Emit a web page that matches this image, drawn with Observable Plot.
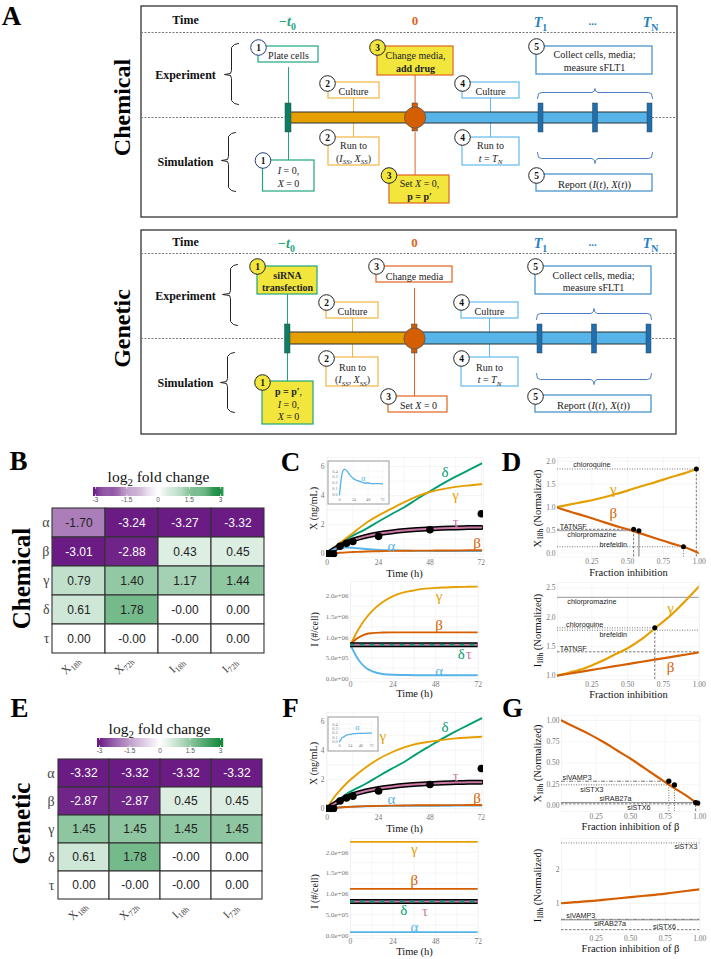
<!DOCTYPE html>
<html><head><meta charset="utf-8">
<script src="https://cdn.jsdelivr.net/npm/d3@7"></script>
<script src="https://cdn.jsdelivr.net/npm/@observablehq/plot@0.6"></script>
<style>html,body{margin:0;padding:0;background:#fff}#page{position:relative;width:711px;height:959px;overflow:hidden;background:#fff}</style>
</head><body><div id="page"></div>
<script>
// ---------- DATA ----------
const OI = {a:"#56B4E9", b:"#D55E00", g:"#E69F00", d:"#009E73", t:"#CC79A7"};
const rowsH = ["α","β","γ","δ","τ"];
const colsH = ["X_{18h}","X_{72h}","I_{18h}","I_{72h}"];
const heatB = [[-1.70,-3.24,-3.27,-3.32],[-3.01,-2.88,0.43,0.45],[0.79,1.40,1.17,1.44],[0.61,1.78,-0.001,0.001],[0.001,-0.001,-0.001,0.001]];
const heatE = [[-3.32,-3.32,-3.32,-3.32],[-2.87,-2.87,0.45,0.45],[1.45,1.45,1.45,1.45],[0.61,1.78,-0.001,0.001],[0.001,-0.001,-0.001,0.001]];
const cbTicks = [-3,-1.5,0,1.5,3];

const T = [0,3,6,9,12,18,24,30,36,42,48,54,60,66,72];
const xGammaC = [0,.4,.75,1.08,1.42,2.1,2.64,3.1,3.55,3.95,4.25,4.45,4.6,4.7,4.78];
const xGammaF = [0,.72,1.25,1.72,2.12,2.82,3.4,3.85,4.2,4.45,4.6,4.72,4.82,4.88,4.93];
const xDelta  = [0,.34,.68,1,1.25,1.7,2.22,2.72,3.2,3.77,4.3,4.82,5.3,5.75,6.2];
const xTau    = [0,.28,.55,.78,.95,1.2,1.38,1.5,1.6,1.67,1.72,1.76,1.78,1.8,1.81];
const xAlphaC = [0,.28,.41,.43,.41,.33,.27,.24,.22,.2,.2,.19,.19,.19,.185];
const xAlphaF = [0,.05,.09,.11,.13,.155,.17,.18,.185,.19,.19,.19,.195,.195,.195];
const xBeta   = [0,.03,.07,.1,.12,.16,.18,.2,.21,.22,.22,.23,.23,.24,.24];
const obsT = [0,1,3,6,9,12,24,48,72];
const obsX = [0,0,0,.52,.72,.85,1.2,1.65,2.75];
const iGammaC = [8.2e5,1.08e6,1.3e6,1.48e6,1.63e6,1.85e6,2e6,2.09e6,2.14e6,2.18e6,2.2e6,2.21e6,2.22e6,2.225e6,2.23e6];
const iBetaC  = [8.2e5,9.5e5,1.03e6,1.08e6,1.1e6,1.115e6,1.12e6,1.12e6,1.12e6,1.12e6,1.12e6,1.12e6,1.12e6,1.12e6,1.12e6];
const iAlphaC = [8.2e5,5.6e5,3.7e5,2.5e5,1.8e5,1.1e5,9e4,8.5e4,8e4,8e4,8e4,8e4,8e4,8e4,8e4];
const iFlat   = [8.2e5,8.2e5,8.2e5,8.2e5,8.2e5,8.2e5,8.2e5,8.2e5,8.2e5,8.2e5,8.2e5,8.2e5,8.2e5,8.2e5,8.2e5];
const iGammaF = [2.25e6,2.25e6,2.25e6,2.25e6,2.25e6,2.25e6,2.25e6,2.25e6,2.25e6,2.25e6,2.25e6,2.25e6,2.25e6,2.25e6,2.25e6];
const iBetaF  = [1.12e6,1.12e6,1.12e6,1.12e6,1.12e6,1.12e6,1.12e6,1.12e6,1.12e6,1.12e6,1.12e6,1.12e6,1.12e6,1.12e6,1.12e6];
const iAlphaF = [8e4,8e4,8e4,8e4,8e4,8e4,8e4,8e4,8e4,8e4,8e4,8e4,8e4,8e4,8e4];
const iTicks = [0,5e5,1e6,1.5e6,2e6];
const iTickLabels = ["0.0e+00","5.0e+05","1.0e+06","1.5e+06","2.0e+06"];
const timeTicks = [0,24,48,72];

const F = [0,.1,.2,.3,.4,.5,.6,.7,.8,.9,1];
const dXGamma = [1,1.06,1.12,1.19,1.27,1.36,1.46,1.55,1.65,1.74,1.85];
const dXBeta  = [1,.9,.81,.71,.61,.52,.42,.32,.22,.13,0];
const dIGamma = [1,1.06,1.13,1.23,1.35,1.47,1.63,1.83,2.03,2.27,2.53];
const dIBeta  = [1,1.04,1.08,1.12,1.16,1.2,1.24,1.28,1.32,1.36,1.4];
const gX = [1,.92,.84,.75,.65,.55,.44,.33,.22,.12,0];
const gI = [1,1.03,1.06,1.1,1.14,1.18,1.22,1.26,1.31,1.36,1.41];
const pts1 = [[.542,.52],[.579,.49],[.89,.14],[.98,1.83]];
const pts2 = [[.69,1.82]];
const pts3 = [[.776,.286],[.817,.243],[.97,.035],[.985,.03]];

// ---------- HELPERS ----------
const SERIF = "'Liberation Serif','Times New Roman',serif", SANS = "'Liberation Sans',Arial,sans-serif";
const STYLE = {background:"transparent",overflow:"visible",fontFamily:SERIF,maxWidth:"none"};
const root = document.getElementById("page");
function put(svg,l,t){svg.style.position="absolute";svg.style.left=l+"px";svg.style.top=t+"px";root.appendChild(svg);}
function pagePlot(marks){
  put(Plot.plot({width:711,height:959,margin:0,x:{domain:[0,711],range:[0,711],axis:null},y:{domain:[0,959],range:[0,959],axis:null},style:STYLE,marks}),0,0);
}
function panel([l,t,r,b],xo,yo,marks,m={},extra={}){
  const {ml=42,mr=6,mt=5,mb=14}=m;
  put(Plot.plot({width:r-l+ml+mr,height:b-t+mt+mb,marginLeft:ml,marginRight:mr,marginTop:mt,marginBottom:mb,x:xo,y:yo,style:STYLE,marks,...extra}),l-ml,t-mt);
}
const L=(xs,ys,c,w=1.9,o={})=>Plot.line(xs.map((x,i)=>[x,ys[i]]),{x:"0",y:"1",stroke:c,strokeWidth:w,curve:"monotone-x",clip:true,...o});
const G=(rows,size=15)=>Plot.text(rows,{x:d=>d[1],y:d=>d[2],text:d=>d[0],fill:d=>d[3],fontSize:size,fontFamily:SERIF});
const grid=(xt,yt)=>[Plot.frame({stroke:"#eee",strokeWidth:.6}),Plot.gridX(xt,{stroke:"#eee",strokeOpacity:1,strokeWidth:.6}),Plot.gridY(yt,{stroke:"#eee",strokeOpacity:1,strokeWidth:.6})];
const axX=(ticks,fmt=String,size=7.5,pad=2)=>Plot.axisX({ticks,tickFormat:fmt,tickSize:0,fontSize:size,color:"#777",label:null,tickPadding:pad});
const axY=(ticks,fmt=String,size=7.5,pad=2)=>Plot.axisY({ticks,tickFormat:fmt,tickSize:0,fontSize:size,color:"#777",label:null,tickPadding:pad});
const TXT=(rows,o={})=>Plot.text(rows,{x:d=>d[1],y:d=>d[2],text:d=>d[0],fontSize:d=>d[3],fill:d=>d[4]||"#111",rotate:d=>d[5]||0,fontFamily:SERIF,lineHeight:1.28,...o});
function vbrace(xe,xm,xt,y0,y1,yt,id){return [[xe,y0],[xm+3,y0+1],[xm,y0+4],[xm,yt-4],[xm-1,yt-1],[xt,yt],[xm-1,yt+1],[xm,yt+4],[xm,y1-4],[xm+3,y1-1],[xe,y1]].map(p=>[...p,id]);}
function hbrace(x0,x1,ye,ym,yt,id){const c=(x0+x1)/2;return [[x0,ye],[x0+1,ym+(ye-ym)*.2],[x0+4,ym],[c-3,ym],[c-.5,ym+(yt-ym)*.4],[c,yt],[c+.5,ym+(yt-ym)*.4],[c+3,ym],[x1-4,ym],[x1-1,ym+(ye-ym)*.2],[x1,ye]].map(p=>[...p,id]);}

// ---------- SCHEMATIC LAYOUT ----------
const cG="#1FA67E",cO="#F2B544",cD="#E0651C",cB="#62B9EC",cR="#3A8CC9",Y="#F2E63D";
const boxes=[
 [258,46,318,62,cG,"#fff"],[328,82,379,98,cO,"#fff"],[377,46,453,75,cD,Y],[462,82,519,98,cB,"#fff"],[536,46,652,74,cR,"#fff"],
 [328,137,379,165,cO,"#fff"],[462,137,519,165,cB,"#fff"],[262.5,160,314,191,cG,"#fff"],[389,175,449,203,cD,Y],[536,174,652,191,cR,"#fff"],
 [257,266,317,294,cG,Y],[326,302,378,318,cO,"#fff"],[376,266,452,282,cD,"#fff"],[461,302,518,318,cB,"#fff"],[535,266,651,294,cR,"#fff"],
 [326,357,378,386,cO,"#fff"],[461,357,518,386,cB,"#fff"],[262,381,313,424,cG,Y],[388,396,447,412,cD,"#fff"],[535,395,651,412,cR,"#fff"]
];
const circles=[
 [1,258,47,"#fff","#24407a"],[2,327,83,"#fff","#222"],[3,377,47,Y,"#222"],[4,462,83,"#fff","#222"],[5,536,46,"#fff","#222"],
 [2,327,137,"#fff","#222"],[4,462,137,"#fff","#222"],[1,262.5,160,"#fff","#24407a"],[3,388.5,175,Y,"#222"],[5,536,175,"#fff","#222"],
 [1,257,266,Y,"#222"],[2,326,302,"#fff","#222"],[3,376,266,"#fff","#222"],[4,461,302,"#fff","#222"],[5,535,266,"#fff","#222"],
 [2,326,358,"#fff","#222"],[4,461,358,"#fff","#222"],[1,262,382,Y,"#222"],[3,388,396,"#fff","#222"],[5,535,396,"#fff","#222"]
];
const boxText=[
 ["Plate cells",288,54,10],["Culture",353,90.5,10],["Change media,\n!add drug!",415,61,10],["Culture",490,90.5,10],["Collect cells, media;\nmeasure sFLT1",594,60,10],
 ["Run to\n(*I*~{SS}, *X*~{SS})",353,151,10],["Run to\n*t* = *T*~{N}",490,151,10],["*I* = 0,\n*X* = 0",288,176,10],["Set *X* = 0,\n!p = p′!",419,189,10],["Report (*I*(*t*), *X*(*t*))",594,183,10.5],
 ["!siRNA!\n!transfection!",287,280.5,10],["Culture",352,310,10],["Change media",414,275,10],["Culture",489,310,10],["Collect cells, media;\nmeasure sFLT1",593,280.5,10],
 ["Run to\n(*I*~{SS}, *X*~{SS})",352,372.5,10],["Run to\n*t* = *T*~{N}",489,372.5,10],["!p = p′!,\n*I* = 0,\n*X* = 0",288,403,10],["Set *X* = 0",418,404,10],["Report (*I*(*t*), *X*(*t*))",593,404,10.5]
];
const cTime="#1f7fc0";
const boldText=[
 ["Time",185,19,12],["−*t*_{0}",287,20,14,cG],["0",414.6,19,13,cD],["*T*_{1}",540,21,14,cTime],["...",592,20,11,cTime],["*T*_{N}",650,21,14,cTime],
 ["Experiment",185,74,12],["Simulation",185,160.5,12],
 ["Time",185,241,12],["−*t*_{0}",286,242,14,cG],["0",414,241,13,cD],["*T*_{1}",540,242,14,cTime],["...",592,241,11,cTime],["*T*_{N}",650,242,14,cTime],
 ["Experiment",185,294.5,12],["Simulation",185,381.5,12],
 ["Chemical",120,107,24,"#000",-90],["Genetic",120,328,24,"#000",-90],
 ["Chemical",19,578,25,"#000",-90],["Genetic",19,823,25,"#000",-90],
 ["A",11,13,27,"#000"],["B",18,458,27,"#000"],["C",290,459,27,"#000"],["D",511,459,27,"#000"],["E",19,705,27,"#000"],["F",290,705,27,"#000"],["G",512,705,27,"#000"]
];
const axisText=[
 ["log_{2} fold change",158,475,15.5],["log_{2} fold change",159,727,15.5],
 ["Time (h)",404,572,10.5],["Time (h)",414,692.5,10.5],["Time (h)",404,827,10.5],["Time (h)",414,950,10.5],
 ["X (ng/mL)",312,508,10,"#111",-90],["I (#/cell)",313,629,10,"#111",-90],["X (ng/mL)",312,763,10,"#111",-90],["I (#/cell)",313,891,10,"#111",-90],
 ["Fraction inhibition",628,571.5,10.5],["Fraction inhibition",628,693,10.5],["Fraction inhibition of β",630,825.5,10.5],["Fraction inhibition of β",630,947.5,10.5],
 ["X_{18h} (Normalized)",536,508,10.5,"#111",-90],["I_{18h} (Normalized)",536,630,10.5,"#111",-90],["X_{18h} (Normalized)",536,763,10.5,"#111",-90],["I_{18h} (Normalized)",536,885,10.5,"#111",-90]
];
const dashes=[[141,677,32],[141,677,117],[141,676,253],[141,676,338]];
const conn=[
 [288,67,103,cG],[288,132,160,cG],[353,98,112,cO],[353,123,137,cO],[414.6,75,103,cD],[414.6,132,175,cD],[490,98,112,cB],[490,123,137,cB],
 [287,294,324,cG],[287,353,381,cG],[352,318,332,cO],[352,344,357,cO],[414,288,324,cD],[414,353,396,cD],[489,318,332,cB],[489,344,357,cB]
];
const bars=[[289,414.6,112,123,OI.g],[414.6,650,112,123,OI.a],[288,414,332,344,OI.g],[414,649,332,344,OI.a]];
const barTicks=[
 [285,291,103,132,"#0B7F63"],[412,417.5,103,131,OI.b],[538,543,103,132,"#1F6FB0"],[592.5,597.5,103,132,"#1F6FB0"],[647,652,103,132,"#1F6FB0"],
 [284.5,290,324,353,"#0B7F63"],[411.5,417,324,353,OI.b],[537,542,324,353,"#1F6FB0"],[591.5,596.5,324,353,"#1F6FB0"],[646,651,324,353,"#1F6FB0"]
];
const hubs=[[414.6,117],[414,338]];
const frames=[[141,6,677,217],[141,230,676,434]];
const braceV=[...vbrace(238,231,224,43,104,74,"a"),...vbrace(235,228,221,132,191,160,"b"),...vbrace(237,230,222,264,325,294,"c"),...vbrace(234,227,220,352,412,382,"d")];
const braceH=[...hbrace(537,652,98,92,88,"a"),...hbrace(537,652,152,158,163,"b"),...hbrace(536,651,319,313,308,"c"),...hbrace(536,651,373,379,384,"d")];

pagePlot([
 Plot.rect(frames,{x1:"0",y1:"1",x2:"2",y2:"3",fill:"#fff",stroke:"#333",strokeWidth:1.3}),
 Plot.ruleY(dashes,{x1:"0",x2:"1",y:"2",stroke:"#777",strokeDasharray:"2,1.5",strokeWidth:1}),
 Plot.ruleX(conn,{x:"0",y1:"1",y2:"2",stroke:"3",strokeWidth:1}),
 Plot.line(braceV,{x:"0",y:"1",z:"2",stroke:"#222",strokeWidth:1,curve:"linear"}),
 Plot.line(braceH,{x:"0",y:"1",z:"2",stroke:"#4A7CC8",strokeWidth:1,curve:"linear"}),
 Plot.rect(bars,{x1:"0",x2:"1",y1:"2",y2:"3",fill:"4",stroke:"#263238",strokeWidth:1}),
 Plot.rect(barTicks,{x1:"0",x2:"1",y1:"2",y2:"3",fill:"4",stroke:"#37474f",strokeWidth:.5}),
 Plot.dot(hubs,{x:"0",y:"1",r:10.6,fill:OI.b,stroke:"#555",strokeWidth:.8}),
 Plot.rect(boxes,{x1:"0",y1:"1",x2:"2",y2:"3",stroke:"4",fill:"5",strokeWidth:1.2}),
 TXT(boxText,{fill:"#222"}),
 Plot.dot(circles,{x:"1",y:"2",r:7.8,fill:"3",stroke:"4",strokeWidth:1}),
 Plot.text(circles,{x:"1",y:"2",text:d=>String(d[0]),fontSize:9.5,fontWeight:"bold",fontFamily:SERIF,fill:"#111"}),
 TXT(boldText,{fontWeight:"bold"}),
 TXT(axisText)
]);

// ---------- HEATMAPS ----------
const PUR="#6A1B84",GRN="#158A3C";
const colorOpt={type:"linear",domain:[-3,0,3],range:[PUR,"#ffffff",GRN],clamp:true};
function heat(values,box,labelDx,m){
  const cells=values.flatMap((r,i)=>r.map((v,j)=>({row:rowsH[i],col:colsH[j],v})));
  panel(box,{domain:colsH,padding:0,axis:null},{domain:rowsH,padding:0},[
    Plot.cell(cells,{x:"col",y:"row",fill:"v",stroke:"#333",strokeWidth:1.1}),
    Plot.text(cells,{x:"col",y:"row",text:d=>d.v.toFixed(2),fontSize:12,fontFamily:SANS,fill:d=>d.v<-2.5?"#fff":"#222"}),
    Plot.axisY({tickSize:0,tickPadding:2,fontSize:14,color:"#444",label:null}),
    Plot.text(colsH,{x:d=>d,text:d=>d,frameAnchor:"bottom",dy:labelDx[1],dx:labelDx[0],rotate:-45,fontSize:11.5,fill:"#444",fontFamily:SERIF})
  ],m,{color:colorOpt});
}
function colorbar(box,dom){
  const bins=d3.range(dom[0],dom[1],.05);
  panel(box,{domain:dom,axis:null},{domain:[0,1],axis:null},[
    Plot.rect(bins,{x1:d=>d,x2:d=>d+.06,y1:0,y2:1,fill:d=>d}),
    Plot.ruleX(cbTicks,{y1:0,y2:.2,stroke:"#fff",strokeWidth:.7}),
    Plot.ruleX(cbTicks,{y1:.8,y2:1,stroke:"#fff",strokeWidth:.7}),
    Plot.axisX({ticks:cbTicks,tickFormat:d=>String(d),tickSize:0,tickPadding:1,fontSize:6.5,fontFamily:SANS,color:"#555",label:null,anchor:"bottom"})
  ],{ml:4,mr:4,mt:2,mb:12},{color:colorOpt});
}
heat(heatB,[51,508.3,265.7,653.7],[-6,14],{ml:20,mr:4,mt:3,mb:26});
colorbar([93,487,223,496],[-3.1,3.14]);
heat(heatE,[56,759,263,899],[-4,14],{ml:20,mr:4,mt:3,mb:26});
colorbar([97,738,223,747],[-3.1,3.15]);

// ---------- TIME COURSES ----------
function xPanel(box,yDom,gamma,alpha,labels){
  panel(box,{domain:[-.3,73],axis:null},{domain:yDom,axis:null},[
    ...grid([0,12,24,36,48,60,72],[0,1,2,3,4,5,6]),
    axX(timeTicks),axY([0,2,4,6]),
    L(T,xDelta,OI.d),L(T,gamma,OI.g),
    L(T,xTau,"#000",5),L(T,xTau,OI.t,2),
    L(T,alpha,OI.a),L(T,xBeta,OI.b),
    Plot.dot(obsT.map((t,i)=>[t,obsX[i]]),{x:"0",y:"1",r:3.8,fill:"#000",clip:true}),
    G(labels)
  ]);
}
function iPanel(box,yDom,gamma,beta,alpha,labels,pad){
  panel(box,{domain:[0,72],axis:null},{domain:yDom,axis:null},[
    ...grid([0,12,24,36,48,60,72],[0,2.5e5,5e5,7.5e5,1e6,1.25e6,1.5e6,1.75e6,2e6]),
    axX(timeTicks,String,7.5,pad),axY(iTicks,d=>iTickLabels[iTicks.indexOf(d)],7,2),
    L(T,gamma,OI.g),L(T,beta,OI.b),L(T,alpha,OI.a),
    L(T,iFlat,"#000",5),L(T,iFlat,OI.t,2),L(T,iFlat,OI.d,2,{strokeDasharray:"3,7"}),
    G(labels)
  ]);
}
xPanel([326,457,483,557],[-.254,6.62],xGammaC,xAlphaC,[["δ",55,5.6,OI.d],["γ",60,4.0,OI.g],["τ",60,2.2,OI.t],["α",30,.55,OI.a],["β",70,.7,OI.b]]);
iPanel([350,580.7,477.7,681],[-8e4,2.354e6],iGammaC,iBetaC,iAlphaC,[["γ",50,2e6,OI.g],["β",50,1.3e6,OI.b],["δ",62.5,6e5,OI.d],["τ",66.7,5.9e5,OI.t],["α",50,1.85e5,OI.a]],0);
xPanel([326,712,483,812],[-.275,6.6],xGammaF,xAlphaF,[["γ",26,5,OI.g],["δ",55,5.6,OI.d],["τ",60,2.2,OI.t],["α",30,.62,OI.a],["β",70,.7,OI.b]]);
iPanel([350,838,477.7,938],[-7.2e4,2.332e6],iGammaF,iBetaF,iAlphaF,[["γ",36,2.08e6,OI.g],["β",36,1.32e6,OI.b],["δ",30,6e5,OI.d],["τ",42,5.8e5,OI.t],["α",36,2e5,OI.a]],0);

// insets
pagePlot([Plot.rect([[328,461,389,504],[328,717,378,751]],{x1:"0",y1:"1",x2:"2",y2:"3",fill:"#fff",stroke:"#aaa",strokeWidth:1.2})]);
function inset(box,xDom,yDom,alpha,label){
  panel(box,{domain:xDom,axis:null},{domain:yDom,axis:null},[
    Plot.gridX(timeTicks,{stroke:"#eee",strokeOpacity:1,strokeWidth:.4}),
    Plot.gridY([0,.1,.2,.3,.4],{stroke:"#eee",strokeOpacity:1,strokeWidth:.4}),
    axX(timeTicks,String,4.2,1),axY([0,.1,.2,.3,.4],d3.format(".1f"),4.2,1),
    L(T,alpha,OI.a,1.3),
    G([label],8)
  ],{ml:9,mr:3,mt:2,mb:7});
}
inset([338,465,384,497],[-1.67,75.3],[-.046,.497],xAlphaC,["α",40,.28,OI.a]);
inset([338,720,372,743],[-2.25,74.25],[-.039,.484],xAlphaF,["α",40,.33,OI.a]);

// ---------- DOSE CURVES ----------
const frTicks=[.25,.5,.75,1];
const frFmt=d3.format(".2f");
function dosePanel(box,xDom,yDom,yTicks,yFmt,marks){
  panel(box,{domain:xDom,axis:null},{domain:yDom,axis:null},[
    ...grid([.25,.5,.75,1],yTicks),axX(frTicks,frFmt),axY(yTicks,yFmt),...marks
  ],{ml:22,mr:6,mt:5,mb:14});
}
const R="#555";
const hr=(y,x1,x2,dash,o={})=>Plot.ruleY([y],{x1,x2,stroke:R,strokeWidth:.8,strokeDasharray:dash,...o});
const vr=(x,y1,y2,dash,o={})=>Plot.ruleX([x],{y1,y2,stroke:R,strokeWidth:.8,strokeDasharray:dash,...o});
const lab=(rows)=>Plot.text(rows,{x:d=>d[1],y:d=>d[2],text:d=>d[0],fontSize:7.2,fontFamily:SANS,fill:"#222"});
const dots=(p,r=2.5)=>Plot.dot(p,{x:"0",y:"1",r,fill:"#000"});
const DOT="1,1.5",DASH="2.5,1.5",DD="4,1.5,1,1.5";
const fmt1=d3.format(".1f"),fmt2=d3.format(".2f");
const d0=.01;
dosePanel([557.3,457.3,699,556.7],[d0,1],[-.08,2.08],[0,.5,1,1.5,2],fmt1,[
  hr(1.83,d0,.98,DOT),vr(.98,-.08,1.83,DASH),hr(.52,d0,.542,DASH),vr(.542,-.08,.52,DASH),
  hr(.49,d0,.579,"",{stroke:"#999",strokeWidth:1}),vr(.579,-.08,.49,"",{stroke:"#777",strokeWidth:1}),hr(.14,d0,.89,DOT),vr(.89,-.08,.14,DOT),
  L(F,dXGamma,OI.g,2.2),L(F,dXBeta,OI.b,2.2),dots(pts1),
  lab([["chloroquine",.25,1.92],["TATNSF",.12,.585],["chlorpromazine",.25,.4],["brefeldin",.4,.19]]),
  G([["γ",.4,1.4,OI.g],["β",.4,.86,OI.b]],15)
]);
dosePanel([557.3,581.7,699,678.7],[d0,1],[.937,2.595],[1,1.5,2,2.5],fmt1,[
  hr(2.34,d0,1,"",{stroke:"#aaa",strokeWidth:1.3}),hr(1.82,d0,.69,DOT),hr(1.78,d0,1,DOT),vr(.69,.937,1.82,DASH),hr(1.41,d0,1,DASH),
  L(F,dIGamma,OI.g,2.2),L(F,dIBeta,OI.b,2.2),dots(pts2),
  lab([["chlorpromazine",.25,2.26],["chloroquine",.2,1.88],["brefeldin",.4,1.7],["TATNSF",.12,1.47]]),
  G([["γ",.8,2.16,OI.g],["β",.8,1.14,OI.b]],15)
]);
dosePanel([560.7,715,699,811],[0,1],[-.07,1.059],[0,.25,.5,.75,1],fmt2,[
  hr(.286,0,.776,DD),vr(.776,-.07,.286,DOT),hr(.243,0,.817,DOT),vr(.817,-.07,.243,DOT),
  hr(.035,0,1,"",{stroke:"#888",strokeWidth:1}),hr(.02,0,.97,DASH),vr(.97,-.07,.03,DASH),
  L(F,gX,OI.b,2.2),dots(pts3,2.6),
  lab([["siVAMP3",.113,.33],["siSTX3",.22,.185],["siRAB27a",.39,.08],["siSTX6",.56,-.03]])
]);
dosePanel([560.7,837.7,699,933],[0,1],[.098,2.91],[1,2],String,[
  hr(2.78,0,1,DOT),hr(.525,0,1,DD),hr(.51,0,1,"",{stroke:"#888",strokeWidth:1}),hr(.22,0,1,DASH),
  L(F,gI,OI.b,2.2),
  lab([["siSTX3",.9,2.67],["siVAMP3",.14,.63],["siRAB27a",.35,.4],["siSTX6",.745,.3]])
]);

// ---------- RICH TEXT ----------
function rich(){
  root.querySelectorAll("text,tspan").forEach(n=>{
    if(n.children.length) return;
    const s=n.textContent;
    if(!/\*|!|[_~]\{/.test(s)) return;
    n.textContent="";
    const re=/\*([^*]+)\*|!([^!]+)!|([_~])\{([^}]+)\}|([^*!_~]+)/g;
    let m,shift=false;
    while((m=re.exec(s))){
      const t=document.createElementNS("http://www.w3.org/2000/svg","tspan");
      if(m[1]!==undefined){t.textContent=m[1];t.setAttribute("font-style","italic");}
      else if(m[2]!==undefined){t.textContent=m[2];t.setAttribute("font-weight","bold");}
      else if(m[3]!==undefined){t.textContent=m[4];t.setAttribute("font-size","70%");t.setAttribute("dy","0.35em");if(m[3]==="~")t.setAttribute("font-style","italic");}
      else t.textContent=m[5];
      if(m[3]===undefined&&shift){t.setAttribute("dy","-0.245em");}
      shift=m[3]!==undefined;
      n.appendChild(t);
    }
  });
}
rich();
</script></body></html>
